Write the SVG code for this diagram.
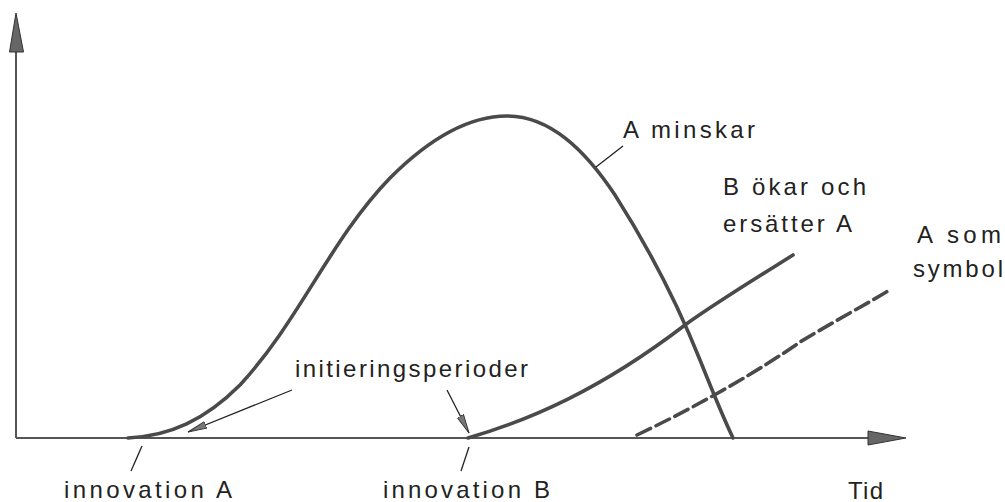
<svg xmlns="http://www.w3.org/2000/svg" width="1005" height="502" viewBox="0 0 1005 502">
<style>
.axis{stroke:#555;stroke-width:2;fill:none}
.curve{stroke:#4a4a4a;stroke-width:3.6;fill:none;stroke-linecap:round}
.thin{stroke:#222;stroke-width:1.3;fill:none}
.lbl{font-family:"Liberation Sans",Arial,sans-serif;font-size:24px;fill:#222}
.head{fill:#666;stroke:#333;stroke-width:1}
</style>
<defs>
<marker id="sm" markerWidth="22" markerHeight="12" refX="19" refY="5" orient="auto" markerUnits="userSpaceOnUse">
<path d="M0,1.5 L19,5 L0,8.5 Z" fill="#777" stroke="#333" stroke-width="0.9"/>
</marker>
</defs>
<g id="axes">
<line class="axis" x1="16" y1="438" x2="16" y2="50"/>
<path class="head" d="M16,13 L23.5,52 L9.5,52 Z"/>
<line class="axis" x1="16" y1="438" x2="870" y2="438"/>
<path class="head" d="M906,438 L868,431 L868,445 Z"/>
</g>
<g id="curve-a">
<path class="curve" d="M128,438 C170,436 205,420 240,385 C300,320 330,240 390,178 C430,138 470,116 507,116 C550,116 585,150 615,195 C650,250 680,310 700,360 C712,390 722,415 733,438"/>
</g>
<g id="curve-b">
<path class="curve" d="M468,438 C530,420 600,390 685,325 C720,300 760,276 793,255"/>
</g>
<g id="curve-a-symbol">
<path class="curve" d="M637,435 C700,405 760,370 800,342 C840,318 870,302 888,291" stroke-dasharray="15 6" stroke-linecap="butt"/>
</g>
<g id="connectors">
<line class="thin" x1="623" y1="146" x2="596" y2="167"/>
<line class="thin" x1="292" y1="390" x2="188" y2="432" marker-end="url(#sm)"/>
<line class="thin" x1="447" y1="390" x2="469" y2="433" marker-end="url(#sm)"/>
<line class="thin" x1="142" y1="446" x2="131" y2="471"/>
<line class="thin" x1="469" y1="447" x2="461" y2="471"/>
</g>
<g id="labels">
<text class="lbl" x="623" y="138" textLength="132" lengthAdjust="spacing">A minskar</text>
<text class="lbl" x="723" y="195" textLength="143" lengthAdjust="spacing">B ökar och</text>
<text class="lbl" x="723" y="232" textLength="129" lengthAdjust="spacing">ersätter A</text>
<text class="lbl" x="917" y="243" textLength="84" lengthAdjust="spacing">A som</text>
<text class="lbl" x="913" y="277" textLength="90" lengthAdjust="spacing">symbol</text>
<text class="lbl" x="295" y="377" textLength="233" lengthAdjust="spacing">initieringsperioder</text>
<text class="lbl" x="64" y="498" textLength="168" lengthAdjust="spacing">innovation A</text>
<text class="lbl" x="383" y="498" textLength="167" lengthAdjust="spacing">innovation B</text>
<text class="lbl" x="848" y="499" textLength="35" lengthAdjust="spacing">Tid</text>
</g>
</svg>
